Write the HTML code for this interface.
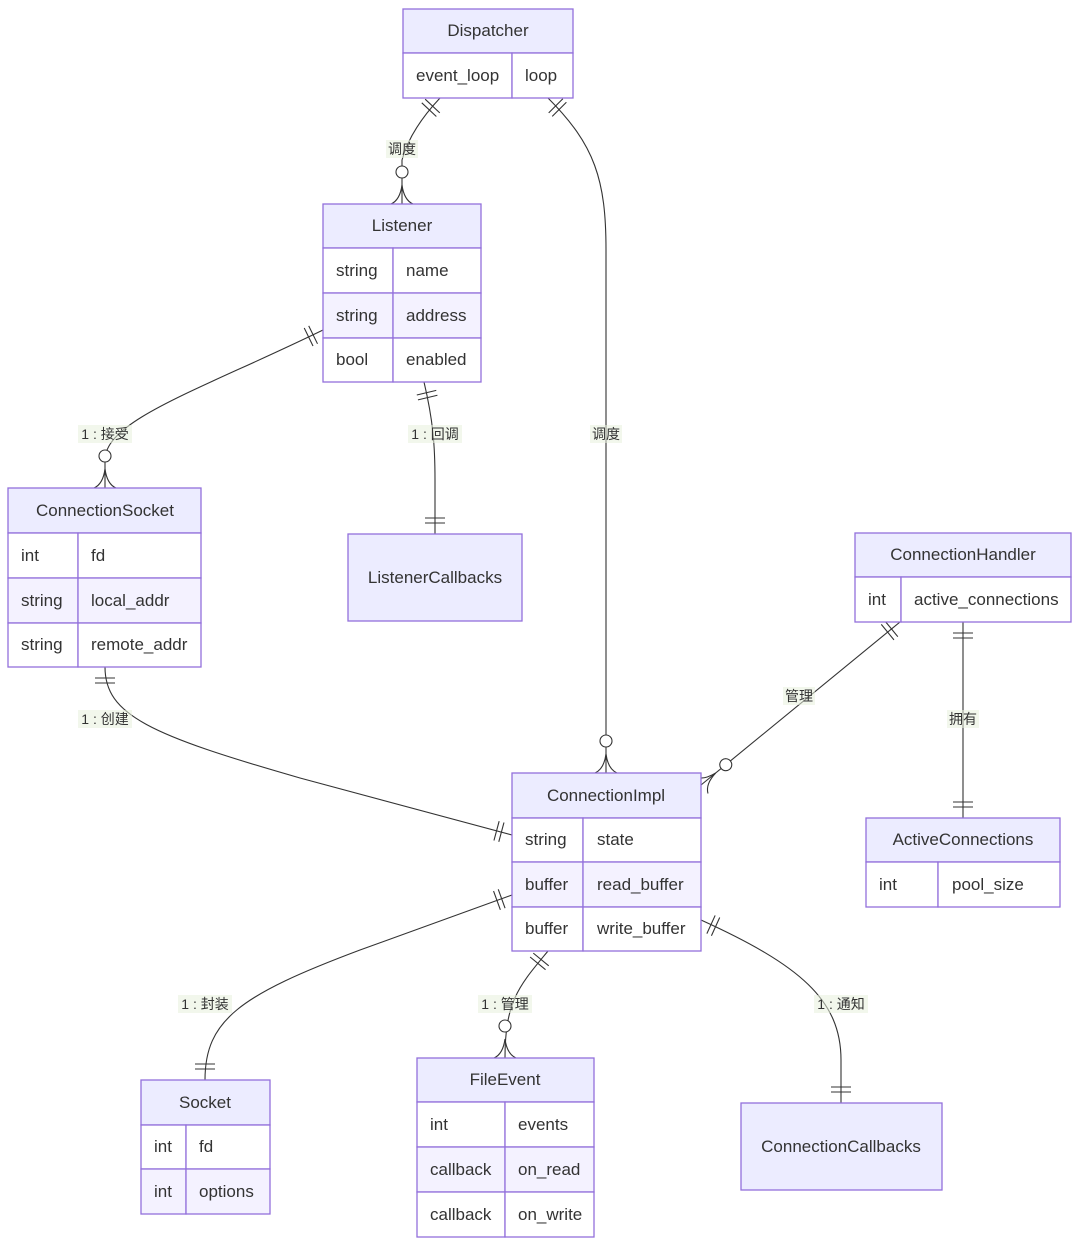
<!DOCTYPE html>
<html><head><meta charset="utf-8"><style>
html,body{margin:0;padding:0;background:#fff;}
svg{display:block;font-family:"Liberation Sans","Noto Sans CJK SC",sans-serif;}
.h{fill:#ECECFF;stroke:#9370DB;stroke-width:1.3}
.w{fill:#ffffff;stroke:#9370DB;stroke-width:1.3}
.o{fill:#F4F2FF;stroke:#9370DB;stroke-width:1.3}
.t{font-size:17px;fill:#333;}
.c{text-anchor:middle}
.e{fill:none;stroke:#333;stroke-width:1.1}
.lb{fill:rgba(232,240,220,0.55)}
.l{font-size:14px;fill:#333;text-anchor:middle}
</style></head><body>
<svg width="1080" height="1245" viewBox="0 0 1080 1245" xmlns="http://www.w3.org/2000/svg">
<defs>
<marker id="one" markerUnits="userSpaceOnUse" markerWidth="40" markerHeight="24" refX="40" refY="12" orient="auto-start-reverse">
<path d="M24,2V22M29,2V22" stroke="#333" stroke-width="1.1" fill="none"/>
</marker>
<marker id="zm" markerUnits="userSpaceOnUse" markerWidth="44" markerHeight="26" refX="40" refY="13" orient="auto-start-reverse">
<circle cx="8" cy="13" r="6" fill="#fff" stroke="#333" stroke-width="1.1"/>
<path d="M21,13Q36,15 40,24M21,13Q36,11 40,2" stroke="#333" stroke-width="1.1" fill="none"/>
</marker>
</defs>

<!-- edges -->
<path class="e" d="M440,98 Q410,130 402,160 L402,204" marker-start="url(#one)" marker-end="url(#zm)"/>
<path class="e" d="M548,98 C595,145 606,180 606,250 L606,773" marker-start="url(#one)" marker-end="url(#zm)"/>
<path class="e" d="M323,330 C200,390 105,420 105,460 L105,488" marker-start="url(#one)" marker-end="url(#zm)"/>
<path class="e" d="M424,382 C433,420 435,445 435,480 L435,534" marker-start="url(#one)" marker-end="url(#one)"/>
<path class="e" d="M105,667 C105,715 150,735 300,778 L512,835" marker-start="url(#one)" marker-end="url(#one)"/>
<path class="e" d="M900,622 L701,785" marker-start="url(#one)" marker-end="url(#zm)"/>
<path class="e" d="M963,622 L963,818" marker-start="url(#one)" marker-end="url(#one)"/>
<path class="e" d="M512,895 L360,950 C240,995 205,1020 205,1080" marker-start="url(#one)" marker-end="url(#one)"/>
<path class="e" d="M548,951 C520,985 505,1000 505,1058" marker-start="url(#one)" marker-end="url(#zm)"/>
<path class="e" d="M701,920 C800,965 841,1000 841,1060 L841,1103" marker-start="url(#one)" marker-end="url(#one)"/>

<!-- labels -->
<rect class="lb" x="386" y="140" width="32" height="18"/><text class="l" x="402" y="154">调度</text>
<rect class="lb" x="590" y="425" width="32" height="18"/><text class="l" x="606" y="439">调度</text>
<rect class="lb" x="78" y="425" width="54" height="18"/><text class="l" x="105" y="439">1 : 接受</text>
<rect class="lb" x="408" y="425" width="54" height="18"/><text class="l" x="435" y="439">1 : 回调</text>
<rect class="lb" x="78" y="710" width="54" height="18"/><text class="l" x="105" y="724">1 : 创建</text>
<rect class="lb" x="783" y="687" width="32" height="18"/><text class="l" x="799" y="701">管理</text>
<rect class="lb" x="947" y="710" width="32" height="18"/><text class="l" x="963" y="724">拥有</text>
<rect class="lb" x="178" y="995" width="54" height="18"/><text class="l" x="205" y="1009">1 : 封装</text>
<rect class="lb" x="478" y="995" width="54" height="18"/><text class="l" x="505" y="1009">1 : 管理</text>
<rect class="lb" x="814" y="995" width="54" height="18"/><text class="l" x="841" y="1009">1 : 通知</text>

<!-- Dispatcher -->
<rect class="h" x="403" y="9" width="170" height="44"/>
<rect class="w" x="403" y="53" width="109" height="45"/><rect class="w" x="512" y="53" width="61" height="45"/>
<text class="t c" x="488" y="36">Dispatcher</text>
<text class="t" x="416" y="81">event_loop</text><text class="t" x="525" y="81">loop</text>

<!-- Listener -->
<rect class="h" x="323" y="204" width="158" height="44"/>
<rect class="w" x="323" y="248" width="70" height="45"/><rect class="w" x="393" y="248" width="88" height="45"/>
<rect class="o" x="323" y="293" width="70" height="45"/><rect class="o" x="393" y="293" width="88" height="45"/>
<rect class="w" x="323" y="338" width="70" height="44"/><rect class="w" x="393" y="338" width="88" height="44"/>
<text class="t c" x="402" y="231">Listener</text>
<text class="t" x="336" y="276">string</text><text class="t" x="406" y="276">name</text>
<text class="t" x="336" y="321">string</text><text class="t" x="406" y="321">address</text>
<text class="t" x="336" y="365">bool</text><text class="t" x="406" y="365">enabled</text>

<!-- ConnectionSocket -->
<rect class="h" x="8" y="488" width="193" height="45"/>
<rect class="w" x="8" y="533" width="70" height="45"/><rect class="w" x="78" y="533" width="123" height="45"/>
<rect class="o" x="8" y="578" width="70" height="45"/><rect class="o" x="78" y="578" width="123" height="45"/>
<rect class="w" x="8" y="623" width="70" height="44"/><rect class="w" x="78" y="623" width="123" height="44"/>
<text class="t c" x="105" y="516">ConnectionSocket</text>
<text class="t" x="21" y="561">int</text><text class="t" x="91" y="561">fd</text>
<text class="t" x="21" y="606">string</text><text class="t" x="91" y="606">local_addr</text>
<text class="t" x="21" y="650">string</text><text class="t" x="91" y="650">remote_addr</text>

<!-- ListenerCallbacks -->
<rect class="h" x="348" y="534" width="174" height="87"/>
<text class="t c" x="435" y="583">ListenerCallbacks</text>

<!-- ConnectionHandler -->
<rect class="h" x="855" y="533" width="216" height="44"/>
<rect class="w" x="855" y="577" width="46" height="45"/><rect class="w" x="901" y="577" width="170" height="45"/>
<text class="t c" x="963" y="560">ConnectionHandler</text>
<text class="t" x="868" y="605">int</text><text class="t" x="914" y="605">active_connections</text>

<!-- ConnectionImpl -->
<rect class="h" x="512" y="773" width="189" height="45"/>
<rect class="w" x="512" y="818" width="71" height="44"/><rect class="w" x="583" y="818" width="118" height="44"/>
<rect class="o" x="512" y="862" width="71" height="45"/><rect class="o" x="583" y="862" width="118" height="45"/>
<rect class="w" x="512" y="907" width="71" height="44"/><rect class="w" x="583" y="907" width="118" height="44"/>
<text class="t c" x="606" y="801">ConnectionImpl</text>
<text class="t" x="525" y="845">string</text><text class="t" x="597" y="845">state</text>
<text class="t" x="525" y="890">buffer</text><text class="t" x="597" y="890">read_buffer</text>
<text class="t" x="525" y="934">buffer</text><text class="t" x="597" y="934">write_buffer</text>

<!-- ActiveConnections -->
<rect class="h" x="866" y="818" width="194" height="44"/>
<rect class="w" x="866" y="862" width="72" height="45"/><rect class="w" x="938" y="862" width="122" height="45"/>
<text class="t c" x="963" y="845">ActiveConnections</text>
<text class="t" x="879" y="890">int</text><text class="t" x="952" y="890">pool_size</text>

<!-- Socket -->
<rect class="h" x="141" y="1080" width="129" height="45"/>
<rect class="w" x="141" y="1125" width="45" height="44"/><rect class="w" x="186" y="1125" width="84" height="44"/>
<rect class="o" x="141" y="1169" width="45" height="45"/><rect class="o" x="186" y="1169" width="84" height="45"/>
<text class="t c" x="205" y="1108">Socket</text>
<text class="t" x="154" y="1152">int</text><text class="t" x="199" y="1152">fd</text>
<text class="t" x="154" y="1197">int</text><text class="t" x="199" y="1197">options</text>

<!-- FileEvent -->
<rect class="h" x="417" y="1058" width="177" height="44"/>
<rect class="w" x="417" y="1102" width="88" height="45"/><rect class="w" x="505" y="1102" width="89" height="45"/>
<rect class="o" x="417" y="1147" width="88" height="45"/><rect class="o" x="505" y="1147" width="89" height="45"/>
<rect class="w" x="417" y="1192" width="88" height="45"/><rect class="w" x="505" y="1192" width="89" height="45"/>
<text class="t c" x="505" y="1085">FileEvent</text>
<text class="t" x="430" y="1130">int</text><text class="t" x="518" y="1130">events</text>
<text class="t" x="430" y="1175">callback</text><text class="t" x="518" y="1175">on_read</text>
<text class="t" x="430" y="1220">callback</text><text class="t" x="518" y="1220">on_write</text>

<!-- ConnectionCallbacks -->
<rect class="h" x="741" y="1103" width="201" height="87"/>
<text class="t c" x="841" y="1152">ConnectionCallbacks</text>
</svg>
</body></html>
